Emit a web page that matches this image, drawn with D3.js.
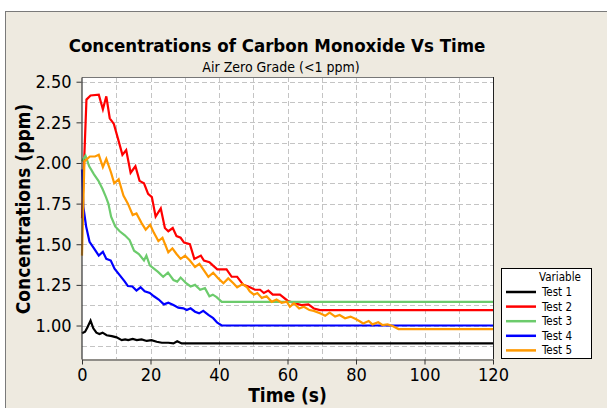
<!DOCTYPE html>
<html><head><meta charset="utf-8">
<script src="https://cdn.jsdelivr.net/npm/d3@7"></script>
<style>
html,body{margin:0;padding:0;background:#fff;}
svg{display:block;}
text{font-family:"DejaVu Sans Condensed","DejaVu Sans",sans-serif;fill:#000;}
</style></head>
<body>
<script>
// ---- data ----
const title = "Concentrations of Carbon Monoxide Vs Time";
const subtitle = "Air Zero Grade (<1 ppm)";
const xLabel = "Time (s)";
const yLabel = "Concentrations (ppm)";
const seriesNames = ["Test 1", "Test 2", "Test 3", "Test 4", "Test 5"];
const seriesColors = ["#000000", "#FF0000", "#6CCB6C", "#0000FF", "#FF9900"];
const xTicks = [0, 20, 40, 60, 80, 100, 120];
const yTicks = [1.00, 1.25, 1.50, 1.75, 2.00, 2.25, 2.50];

const test1 = [[0,0.952],[0.9,0.962],[1.6,0.99],[2.5,1.03],[3.3,0.983],[4.2,0.956],[5.1,0.948],[6,0.956],[7.2,0.94],[8.7,0.935],[10.1,0.927],[11.6,0.91],[12.6,0.915],[13.5,0.91],[14.8,0.917],[16,0.91],[17.4,0.915],[18.9,0.905],[20.3,0.91],[21.8,0.9],[23.3,0.894],[25.2,0.894],[26.7,0.89],[27.8,0.903],[29.1,0.89],[120,0.89]];
const test2 = [[0,1.66],[1.3,2.39],[2.5,2.415],[4.9,2.42],[6.1,2.33],[7.1,2.41],[8.1,2.275],[9.3,2.24],[10.5,2.15],[11.8,2.05],[12.9,2.08],[14.2,1.94],[15.6,1.98],[16.8,1.89],[18.1,1.875],[19.3,1.81],[20.4,1.79],[21.5,1.67],[23,1.72],[24.2,1.60],[25.2,1.58],[26.5,1.60],[27.6,1.55],[28.8,1.54],[29.8,1.51],[31.5,1.50],[32.8,1.41],[34.7,1.43],[35.6,1.40],[37.2,1.39],[38.2,1.37],[39.5,1.346],[42.2,1.346],[43.7,1.30],[45.3,1.30],[47.1,1.25],[48.6,1.24],[50.5,1.22],[52,1.22],[53.1,1.20],[54.4,1.215],[55.7,1.19],[57.8,1.19],[60.2,1.15],[62.2,1.137],[64.1,1.126],[66.1,1.13],[67.7,1.105],[69.5,1.095],[120,1.095]];
const test3 = [[0,2.01],[1,2.045],[2.1,1.98],[3.5,1.93],[4.8,1.89],[6,1.84],[7,1.79],[7.7,1.75],[8.5,1.67],[9.7,1.61],[11,1.58],[12.5,1.555],[13.9,1.526],[15.2,1.46],[16.6,1.44],[18.1,1.40],[18.8,1.43],[19.8,1.37],[21,1.35],[22.2,1.33],[23.7,1.30],[25.1,1.325],[26.7,1.28],[27.8,1.27],[28.8,1.295],[30.4,1.26],[31.7,1.24],[33,1.25],[34.5,1.22],[35.9,1.23],[37.2,1.18],[38.2,1.19],[39.3,1.175],[40.8,1.146],[120,1.146]];
const test4 = [[0,1.96],[0.4,1.73],[1.2,1.61],[2.2,1.515],[3.5,1.475],[4.9,1.43],[6.1,1.454],[7.1,1.41],[8.4,1.40],[9.5,1.35],[11,1.31],[12.5,1.27],[13.4,1.243],[14.7,1.24],[15.9,1.215],[17.1,1.235],[18.3,1.21],[19.8,1.20],[21,1.18],[22.4,1.16],[23.9,1.13],[25.2,1.14],[26.7,1.126],[28.1,1.11],[29.6,1.106],[30.6,1.095],[31.7,1.106],[33,1.085],[34.2,1.075],[35.4,1.09],[36.9,1.065],[38.3,1.045],[39.5,1.017],[40.8,1.00],[120,1.00]];
const test5 = [[0,1.43],[0.7,2.01],[2.3,2.04],[3.8,2.04],[4.9,2.05],[6.1,1.975],[7.1,2.025],[8.5,1.94],[9.4,1.875],[10.7,1.90],[12.1,1.80],[13.4,1.75],[14.8,1.68],[15.9,1.69],[17.4,1.63],[18.6,1.59],[19.9,1.62],[21,1.57],[22.3,1.52],[23.5,1.54],[25.2,1.45],[26.4,1.475],[27.6,1.44],[28.8,1.41],[30.1,1.43],[31.5,1.40],[33,1.36],[34.3,1.38],[35.6,1.34],[36.9,1.30],[38.3,1.325],[39.8,1.29],[41.3,1.26],[42.7,1.29],[44.2,1.26],[45.3,1.235],[46.9,1.255],[48.2,1.235],[49,1.21],[50.2,1.19],[51.2,1.20],[52.5,1.17],[53.9,1.18],[55.4,1.146],[56.8,1.16],[58.3,1.14],[59.8,1.146],[60.7,1.115],[61.9,1.137],[63.4,1.105],[64.8,1.115],[66.4,1.095],[67.7,1.09],[69.5,1.075],[71,1.06],[72.3,1.08],[73.9,1.055],[75.2,1.065],[76.8,1.045],[78.4,1.055],[79.9,1.04],[81.2,1.025],[82.1,1.013],[83.7,1.028],[84.8,1.007],[86.5,1.02],[87.7,1.003],[89.2,1.007],[90.7,0.997],[92.4,0.978],[120,0.978]];
const seriesData = [test1, test2, test3, test4, test5];

// ---- layout ----
const W = 607, H = 408;
const plot = {left: 82, right: 493, top: 77, bottom: 359};

const svg = d3.select("body").append("svg").attr("width", W).attr("height", H);

// panel
svg.append("rect").attr("x", 0).attr("y", 0).attr("width", W).attr("height", H).attr("fill", "#ffffff");
svg.append("rect").attr("x", 5.5).attr("y", 11.5).attr("width", 700).attr("height", 500)
  .attr("fill", "#EEEAE0").attr("stroke", "#7a7a7a").attr("stroke-width", 1);

const x = d3.scaleLinear().domain([0, 120]).range([plot.left, plot.right]);
const y = d3.scaleLinear().domain([0.794, 2.529]).range([plot.bottom, plot.top]);

// plot background
svg.append("rect").attr("x", plot.left).attr("y", plot.top)
  .attr("width", plot.right - plot.left).attr("height", plot.bottom - plot.top)
  .attr("fill", "#ffffff");

// grid
const gridX = d3.range(10, 120, 10);
const gridY = d3.range(0.875, 2.51, 0.125);
const grid = svg.append("g").attr("stroke", "#c4c4c4").attr("stroke-width", 1).attr("stroke-dasharray", "5,3");
grid.selectAll("line.gx").data(gridX).enter().append("line")
  .attr("x1", d => Math.round(x(d)) + 0.5).attr("x2", d => Math.round(x(d)) + 0.5)
  .attr("y1", plot.top).attr("y2", plot.bottom);
grid.selectAll("line.gy").data(gridY).enter().append("line")
  .attr("x1", plot.left).attr("x2", plot.right)
  .attr("y1", d => Math.round(y(d)) + 0.5).attr("y2", d => Math.round(y(d)) + 0.5);

// series lines
const line = d3.line().x(d => x(d[0])).y(d => y(d[1]));
const lines = svg.append("g");
seriesData.forEach((s, i) => {
  lines.append("path").datum(s).attr("d", line).attr("fill", "none")
    .attr("stroke", seriesColors[i]).attr("stroke-width", 2.2).attr("stroke-linejoin", "miter");
});

// frame
svg.append("line").attr("x1", plot.left).attr("x2", plot.right + 0.5).attr("y1", plot.top + 0.5).attr("y2", plot.top + 0.5).attr("stroke", "#777");
svg.append("line").attr("x1", plot.right + 0.5).attr("x2", plot.right + 0.5).attr("y1", plot.top).attr("y2", plot.bottom).attr("stroke", "#222");

// axes
const xAxis = d3.axisBottom(x).tickValues(xTicks).tickFormat(d3.format("d")).tickSizeOuter(0).tickSizeInner(5).tickPadding(4);
const yAxis = d3.axisLeft(y).tickValues(yTicks).tickFormat(d3.format(".2f")).tickSizeOuter(0).tickSizeInner(5).tickPadding(5);
const gx = svg.append("g").attr("transform", `translate(0,${plot.bottom + 0.5})`).call(xAxis);
const gy = svg.append("g").attr("transform", `translate(${plot.left - 0.5},0)`).call(yAxis);
[gx, gy].forEach(g => {
  g.select(".domain").attr("stroke", "#333").attr("stroke-width", 1.2);
  g.selectAll(".tick line").attr("stroke", "#333");
  g.selectAll(".tick text").attr("font-family", "DejaVu Sans Condensed, DejaVu Sans, sans-serif").attr("font-size", 18).attr("fill", "#000");
});

// titles
svg.append("text").attr("x", 277).attr("y", 52).attr("text-anchor", "middle")
  .attr("font-size", 18.5).attr("font-weight", "bold").text(title);
svg.append("text").attr("x", 281).attr("y", 71.5).attr("text-anchor", "middle")
  .attr("font-size", 14).text(subtitle);
svg.append("text").attr("x", 287.5).attr("y", 401.5).attr("text-anchor", "middle")
  .attr("font-size", 19).attr("font-weight", "bold").text(xLabel);
svg.append("text").attr("transform", "translate(30,209) rotate(-90)").attr("text-anchor", "middle")
  .attr("font-size", 19).attr("font-weight", "bold").text(yLabel);

// legend
const lg = svg.append("g");
lg.append("rect").attr("x", 501.5).attr("y", 268.5).attr("width", 90).attr("height", 90)
  .attr("fill", "#fff").attr("stroke", "#000").attr("stroke-width", 1);
lg.append("text").attr("x", 560).attr("y", 281).attr("text-anchor", "middle").attr("font-size", 11.5).text("Variable");
seriesNames.forEach((n, i) => {
  const cy = 292 + i * 14.6;
  lg.append("line").attr("x1", 506).attr("x2", 536).attr("y1", cy).attr("y2", cy)
    .attr("stroke", seriesColors[i]).attr("stroke-width", 2.5);
  lg.append("text").attr("x", 542).attr("y", cy + 4).attr("font-size", 11.5).text(n);
});
</script>
</body></html>
